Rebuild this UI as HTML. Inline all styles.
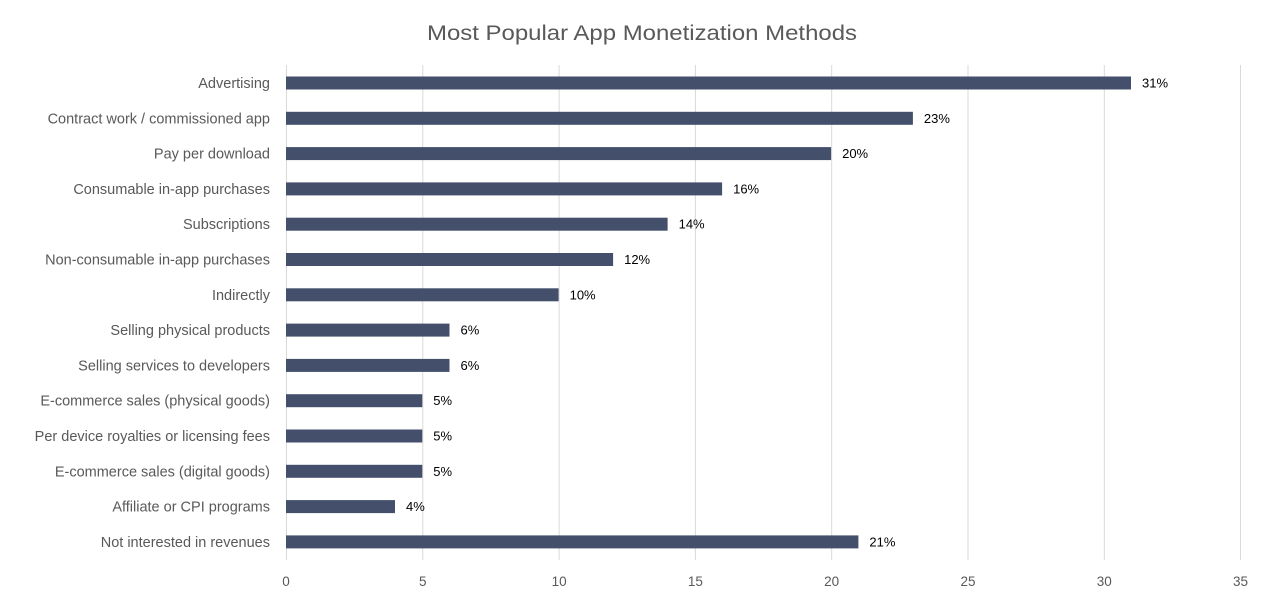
<!DOCTYPE html>
<html><head><meta charset="utf-8"><style>
html,body{margin:0;padding:0;background:#fff;}
svg{display:block;font-family:"Liberation Sans",sans-serif;}
</style></head><body>
<svg width="1261" height="602" viewBox="0 0 1261 602">
<rect width="1261" height="602" fill="#fff"/>
<text x="642" y="40" text-anchor="middle" font-size="21" fill="#595959" textLength="430" lengthAdjust="spacingAndGlyphs">Most Popular App Monetization Methods</text>
<g stroke="#d9d9d9" stroke-width="1">
<line x1="286.5" y1="65" x2="286.5" y2="560"/>
<line x1="422.8" y1="65" x2="422.8" y2="560"/>
<line x1="559.1" y1="65" x2="559.1" y2="560"/>
<line x1="695.4" y1="65" x2="695.4" y2="560"/>
<line x1="831.7" y1="65" x2="831.7" y2="560"/>
<line x1="968" y1="65" x2="968" y2="560"/>
<line x1="1104.3" y1="65" x2="1104.3" y2="560"/>
<line x1="1240.5" y1="65" x2="1240.5" y2="560"/>
</g>
<g font-size="13.5" fill="#595959" text-anchor="middle">
<text x="286" y="586">0</text><text x="422.8" y="586">5</text><text x="559.1" y="586">10</text><text x="695.4" y="586">15</text><text x="831.7" y="586">20</text><text x="968" y="586">25</text><text x="1104.3" y="586">30</text><text x="1240.5" y="586">35</text>
</g>
<g fill="#434f6b">
<rect x="286" y="76.5" width="845" height="13"/>
<rect x="286" y="111.8" width="626.9" height="13"/>
<rect x="286" y="147.1" width="545.1" height="13"/>
<rect x="286" y="182.4" width="436.1" height="13"/>
<rect x="286" y="217.7" width="381.6" height="13"/>
<rect x="286" y="253" width="327.1" height="13"/>
<rect x="286" y="288.3" width="272.6" height="13"/>
<rect x="286" y="323.6" width="163.5" height="13"/>
<rect x="286" y="358.9" width="163.5" height="13"/>
<rect x="286" y="394.2" width="136.3" height="13"/>
<rect x="286" y="429.5" width="136.3" height="13"/>
<rect x="286" y="464.8" width="136.3" height="13"/>
<rect x="286" y="500.1" width="109" height="13"/>
<rect x="286" y="535.4" width="572.4" height="13"/>
</g>
<g font-size="14.5" fill="#595959" text-anchor="end">
<text x="270" y="88">Advertising</text>
<text x="270" y="123.3">Contract work / commissioned app</text>
<text x="270" y="158.6">Pay per download</text>
<text x="270" y="193.9">Consumable in-app purchases</text>
<text x="270" y="229.2">Subscriptions</text>
<text x="270" y="264.5">Non-consumable in-app purchases</text>
<text x="270" y="299.8">Indirectly</text>
<text x="270" y="335.1">Selling physical products</text>
<text x="270" y="370.4">Selling services to developers</text>
<text x="270" y="405.7">E-commerce sales (physical goods)</text>
<text x="270" y="441">Per device royalties or licensing fees</text>
<text x="270" y="476.3">E-commerce sales (digital goods)</text>
<text x="270" y="511.6">Affiliate or CPI programs</text>
<text x="270" y="546.9">Not interested in revenues</text>
</g>
<g font-size="13" fill="#000">
<text x="1142" y="87.5">31%</text>
<text x="923.9" y="122.8">23%</text>
<text x="842.1" y="158.1">20%</text>
<text x="733.1" y="193.4">16%</text>
<text x="678.6" y="228.7">14%</text>
<text x="624.1" y="264">12%</text>
<text x="569.6" y="299.3">10%</text>
<text x="460.5" y="334.6">6%</text>
<text x="460.5" y="369.9">6%</text>
<text x="433.3" y="405.2">5%</text>
<text x="433.3" y="440.5">5%</text>
<text x="433.3" y="475.8">5%</text>
<text x="406" y="511.1">4%</text>
<text x="869.4" y="546.4">21%</text>
</g>
</svg>
</body></html>
